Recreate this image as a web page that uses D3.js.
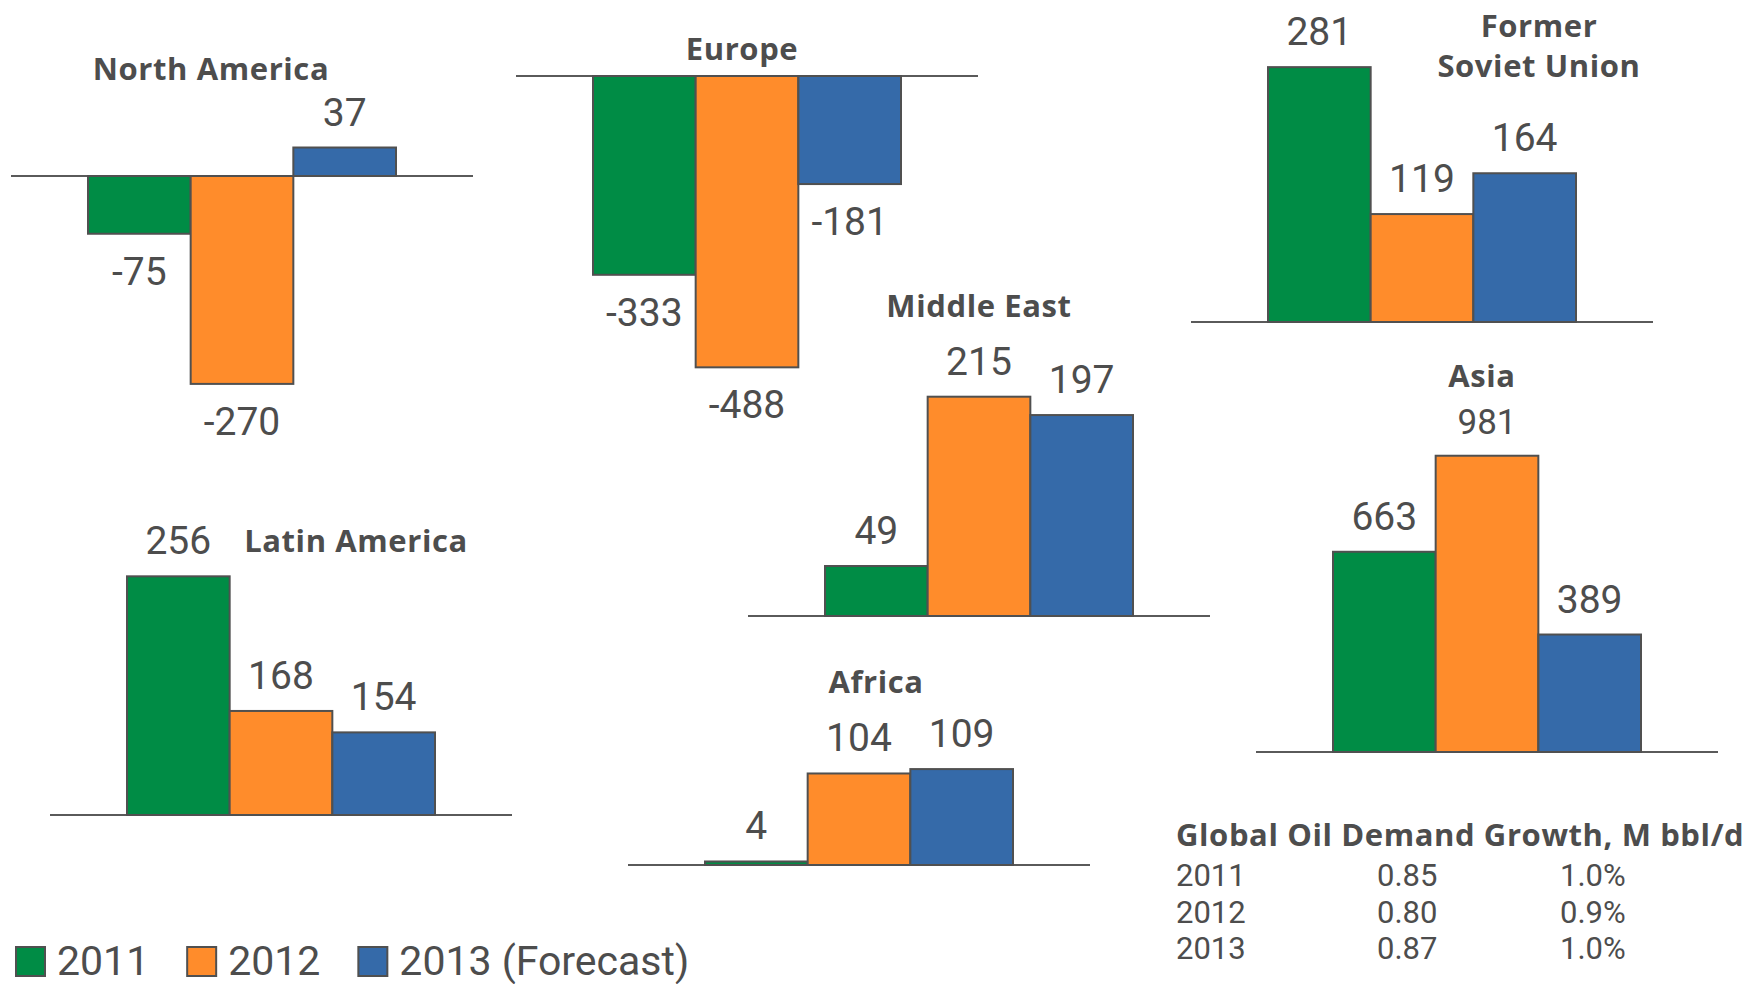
<!DOCTYPE html>
<html lang="en">
<head>
<meta charset="UTF-8">
<title>Oil demand growth by region</title>
<script src="https://d3js.org/d3.v7.min.js"></script>
<style>
  body{margin:0;background:#fff;}
  svg{display:block;}
</style>
</head>
<body>
<svg></svg>
<script>
// demand change by region, k bbl/d
var regions = ["North America","Europe","Former Soviet Union","Middle East","Africa","Latin America","Asia"];
var titleLines = [["North America"],["Europe"],["Former","Soviet Union"],["Middle East"],["Africa"],["Latin America"],["Asia"]];
var years = ["2011","2012","2013 (Forecast)"];
var values2011 = [-75,-333,281,49,4,256,663];
var values2012 = [-270,-488,119,215,104,168,981];
var values2013 = [37,-181,164,197,109,154,389];

// global table
var globalTitle = "Global Oil Demand Growth, M bbl/d";
var globalYears = ["2011","2012","2013"];
var globalGrowth = ["0.85","0.80","0.87"];
var globalPct = ["1.0%","0.9%","1.0%"];

var colors = ["#008c45","#ff8c2b","#356aa9"];
var textColor = "#4d4d4d";
var edgeColor = "#505050";

// every small chart is its own little plot: left end of base line, base line y,
// pixels per unit, value at the base line, title anchor
var lineW = 462;
var layout = [
  {x:11,   y:176, k:0.77,  floor:0,   tx:211,  ty:80},
  {x:516,  y:76,  k:0.597, floor:0,   tx:742,  ty:60},
  {x:1191, y:322, k:0.907, floor:0,   tx:1539, ty:37},
  {x:748,  y:616, k:1.02,  floor:0,   tx:979,  ty:317},
  {x:628,  y:865, k:0.88,  floor:0,   tx:876,  ty:693},
  {x:50,   y:815, k:1.53,  floor:100, tx:356,  ty:552},
  {x:1256, y:752, k:0.302, floor:0,   tx:1482, ty:387, bigLabel:1}
];

var svg = d3.select("svg").attr("width",1752).attr("height",984);

function titleStyle(sel){
    sel.attr("font-family","'Open Sans', sans-serif")
        .attr("font-weight","bold")
        .attr("font-size",31)
        .attr("letter-spacing",0.6)
        .attr("fill",textColor);
}

regions.forEach(function(name,i){
    var p = layout[i];
    var vals = [values2011[i],values2012[i],values2013[i]];
    var x = d3.scaleBand().domain(years).range([p.x+lineW/6,p.x+lineW*5/6]);
    var y = d3.scaleLinear().domain([p.floor,p.floor+100]).range([p.y,p.y-100*p.k]);
    var g = svg.append("g").attr("class","panel");

    g.append("line")
        .attr("x1",p.x).attr("x2",p.x+lineW)
        .attr("y1",y(p.floor)).attr("y2",y(p.floor))
        .attr("stroke","#5a5a5a").attr("stroke-width",2);

    g.selectAll("rect").data(vals).join("rect")
        .attr("x",function(d,j){return x(years[j]);})
        .attr("y",function(d){return Math.min(y(d),y(p.floor));})
        .attr("width",x.bandwidth())
        .attr("height",function(d){return Math.abs(y(d)-y(p.floor));})
        .attr("fill",function(d,j){return colors[j];})
        .attr("stroke",edgeColor).attr("stroke-width",2);

    g.selectAll("text.val").data(vals).join("text")
        .attr("class","val")
        .attr("x",function(d,j){return x(years[j])+x.bandwidth()/2;})
        .attr("y",function(d){return d>=0 ? y(d)-22 : y(d)+51;})
        .attr("text-anchor","middle")
        .attr("font-family","Roboto, sans-serif")
        .attr("font-size",function(d,j){return p.bigLabel===j ? 35 : 39;})
        .attr("fill",textColor)
        .text(function(d){return d;});

    g.selectAll("text.title").data(titleLines[i]).join("text")
        .attr("class","title")
        .attr("x",p.tx)
        .attr("y",function(d,j){return p.ty+j*40;})
        .attr("text-anchor","middle")
        .call(titleStyle)
        .text(function(d){return d;});
});

// legend
var legend = svg.append("g").attr("class","legend");
var lx = 16;
years.forEach(function(yr,j){
    legend.append("rect")
        .attr("x",lx).attr("y",947).attr("width",29).attr("height",29)
        .attr("fill",colors[j]).attr("stroke",edgeColor).attr("stroke-width",2);
    var t = legend.append("text")
        .attr("x",lx+41).attr("y",975)
        .attr("font-family","Roboto, sans-serif")
        .attr("font-size",41)
        .attr("fill",textColor)
        .text(yr);
    lx = lx+41+t.node().getComputedTextLength()+38;
});

// global table
var tbl = svg.append("g").attr("class","table");
tbl.append("text")
    .attr("x",1176).attr("y",846)
    .call(titleStyle)
    .text(globalTitle);
var rowY = d3.scaleLinear().domain([0,2]).range([886,959]);
var cols = [globalYears,globalGrowth,globalPct];
var colX = [1176,1377,1560];
cols.forEach(function(col,c){
    tbl.selectAll("text.c"+c).data(col).join("text")
        .attr("class","c"+c)
        .attr("x",colX[c])
        .attr("y",function(d,r){return rowY(r);})
        .attr("font-family","Roboto, sans-serif")
        .attr("font-size",31)
        .attr("fill",textColor)
        .text(function(d){return d;});
});
</script>
</body>
</html>
